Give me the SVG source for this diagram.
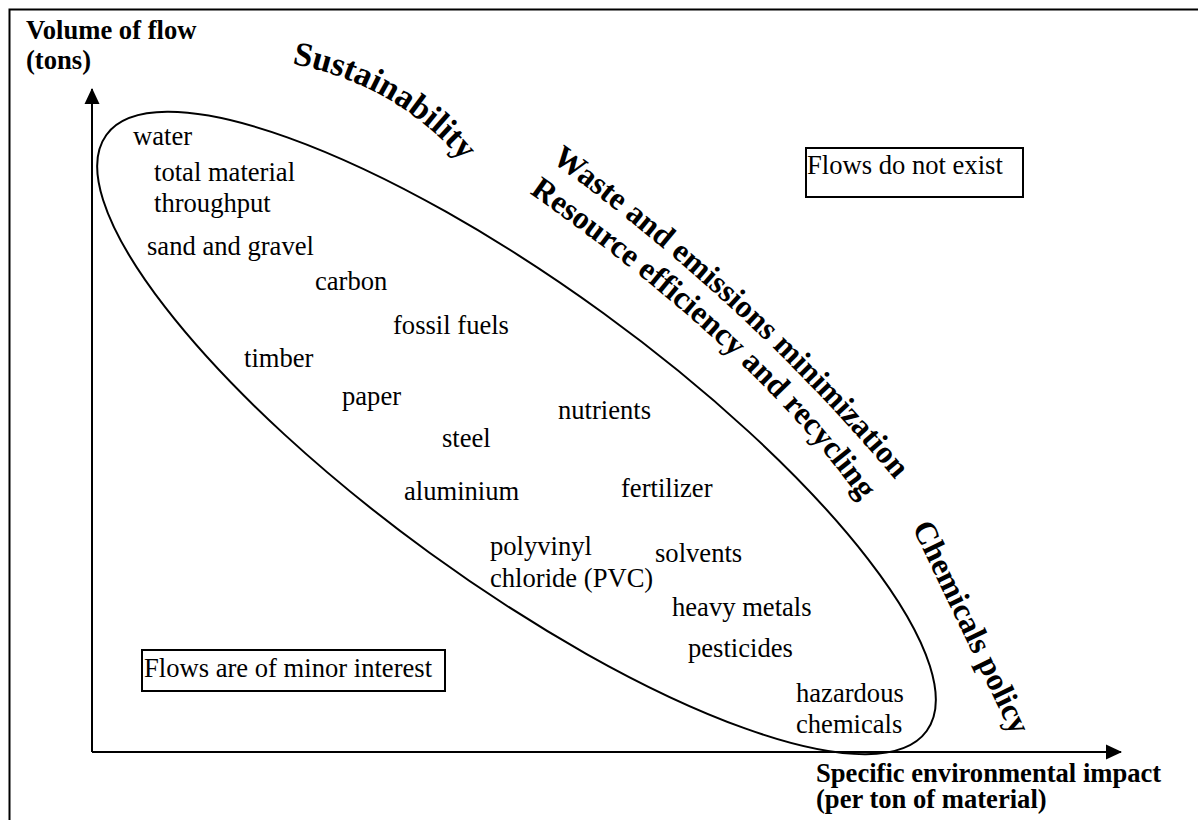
<svg xmlns="http://www.w3.org/2000/svg" xmlns:xlink="http://www.w3.org/1999/xlink" width="1198" height="820" viewBox="0 0 1198 820">
  <style>
    .t { font-family: "Liberation Serif", "Times New Roman", serif; font-size: 26.6px; fill: #000; }
    .b { font-weight: bold; }
    .big { font-family: "Liberation Serif", "Times New Roman", serif; font-size: 32px; font-weight: bold; fill: #000; }
    .line { fill: none; stroke: #000; stroke-width: 2; }
    .box { fill: #fff; stroke: #000; stroke-width: 2; }
  </style>
  <defs>
    <marker id="arrow" viewBox="0 0 16 16" refX="15" refY="8" markerWidth="16" markerHeight="16" markerUnits="userSpaceOnUse" orient="auto">
      <path d="M0,0.5 L16,8 L0,15.5 Z" fill="#000"/>
    </marker>
    <path id="arcSust" d="M292,64 A290,290 0 0 1 479,183 L510,228"/>
    <path id="arcWaste" d="M551,161 Q748,304 898,483 L937,529"/>
    <path id="arcRes" d="M529,193 Q758,353 864,505 L898,554"/>
  </defs>

  <rect width="1198" height="820" fill="#fff"/>

  <!-- outer frame (open at the right and bottom) -->
  <path class="line" d="M9.5,820 V9.5 H1198"/>

  <!-- axes -->
  <g id="connectors">
    <path class="line" d="M92,752 V89" marker-end="url(#arrow)"/>
    <path class="line" d="M92,752 H1121" marker-end="url(#arrow)"/>
  </g>

  <g id="axis-y-label">
    <text class="t b" x="26" y="39">Volume of flow</text>
    <text class="t b" x="26" y="69">(tons)</text>
  </g>
  <g id="axis-x-label">
    <text class="t b" x="816" y="782">Specific environmental impact</text>
    <text class="t b" x="816" y="808">(per ton of material)</text>
  </g>

  <!-- envelope of material flows -->
  <g id="flow-envelope">
    <ellipse class="line" cx="516.5" cy="433" rx="507" ry="148" transform="rotate(36 516.5 433)"/>
  </g>

  <g id="materials">
    <text class="t" x="133" y="145">water</text>
    <text class="t" x="154" y="181">total material</text>
    <text class="t" x="154" y="212">throughput</text>
    <text class="t" x="147" y="255">sand and gravel</text>
    <text class="t" x="315" y="290">carbon</text>
    <text class="t" x="393" y="334">fossil fuels</text>
    <text class="t" x="244" y="367">timber</text>
    <text class="t" x="342" y="405">paper</text>
    <text class="t" x="442" y="447">steel</text>
    <text class="t" x="558" y="419">nutrients</text>
    <text class="t" x="404" y="500">aluminium</text>
    <text class="t" x="621" y="497">fertilizer</text>
    <text class="t" x="490" y="555">polyvinyl</text>
    <text class="t" x="490" y="587">chloride (PVC)</text>
    <text class="t" x="655" y="562">solvents</text>
    <text class="t" x="672" y="616">heavy metals</text>
    <text class="t" x="688" y="657">pesticides</text>
    <text class="t" x="796" y="702">hazardous</text>
    <text class="t" x="796" y="733">chemicals</text>
  </g>

  <g id="box-not-exist">
    <rect class="box" x="806" y="148" width="217" height="49"/>
    <text class="t" x="807" y="174">Flows do not exist</text>
  </g>
  <g id="box-minor">
    <rect class="box" x="142" y="650" width="303" height="41"/>
    <text class="t" x="144" y="677">Flows are of minor interest</text>
  </g>

  <!-- policy fields along the diagonal -->
  <g id="policy-sustainability">
    <text class="big" style="font-size:34px"><textPath xlink:href="#arcSust" href="#arcSust">Sustainability</textPath></text>
  </g>
  <g id="policy-waste">
    <text class="big"><textPath xlink:href="#arcWaste" href="#arcWaste">Waste and emissions minimization</textPath></text>
  </g>
  <g id="policy-resource">
    <text class="big"><textPath xlink:href="#arcRes" href="#arcRes">Resource efficiency and recycling</textPath></text>
  </g>
  <g id="policy-chemicals">
    <text class="big" transform="translate(912 527) rotate(64.4)">Chemicals policy</text>
  </g>
</svg>
